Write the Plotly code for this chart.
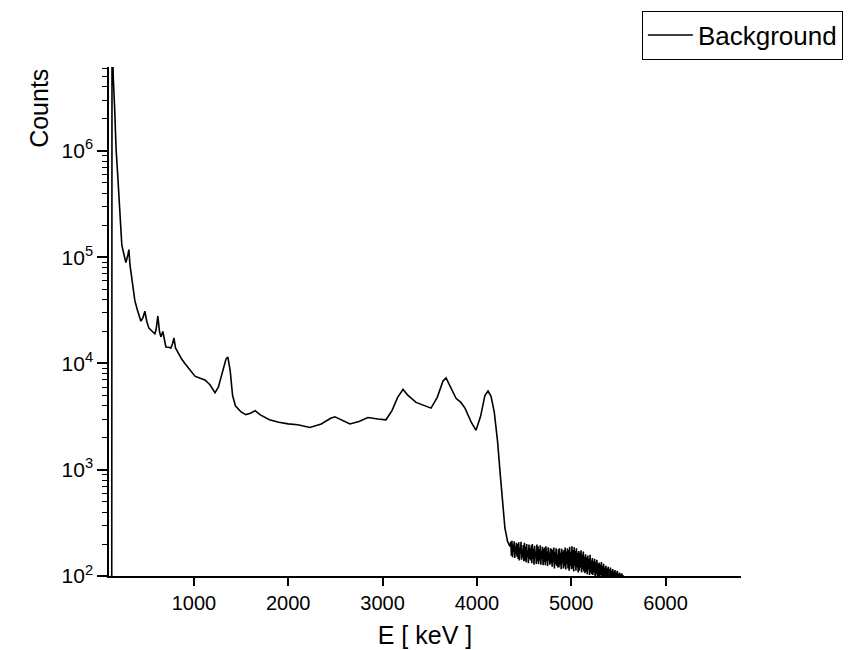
import plotly.graph_objects as go

# Main spectrum (energy in keV, counts)
main_energy = [100, 128, 132, 145, 160, 175, 194, 215, 236, 260, 279, 300, 311, 322, 332, 350, 374, 400,
               438, 460, 480, 500, 523, 560, 586, 600, 618, 635, 650, 671, 690, 703, 730, 756, 775, 788,
               805, 830, 870, 905, 950, 1011, 1060, 1117, 1170, 1224, 1260, 1300, 1340, 1360, 1385, 1410,
               1440, 1500, 1550, 1600, 1650, 1700, 1800, 1900, 2000, 2100, 2230, 2350, 2450, 2495, 2550,
               2654, 2750, 2845, 2950, 3036, 3100, 3160, 3217, 3270, 3355, 3440, 3514, 3580, 3640, 3673,
               3710, 3779, 3830, 3874, 3940, 3991, 4040, 4085, 4118, 4150, 4184, 4219, 4248, 4272, 4297,
               4325, 4350]
main_counts = [1, 1, 2.0e7, 5.0e6, 2.5e6, 1.05e6, 5.6e5, 2.7e5, 1.3e5, 1.05e5, 8.9e4, 1.05e5, 1.18e5,
               8.5e4, 7.4e4, 5.5e4, 3.9e4, 3.2e4, 2.5e4, 2.7e4, 3.1e4, 2.5e4, 2.15e4, 2.0e4, 1.9e4, 2.1e4,
               2.8e4, 2.0e4, 1.78e4, 2.0e4, 1.6e4, 1.43e4, 1.42e4, 1.4e4, 1.55e4, 1.74e4, 1.4e4, 1.26e4,
               1.1e4, 1.0e4, 8.8e3, 7.6e3, 7.3e3, 7.0e3, 6.3e3, 5.3e3, 6.0e3, 8.0e3, 1.1e4, 1.15e4, 8.5e3,
               5.0e3, 4.0e3, 3.5e3, 3.3e3, 3.4e3, 3.6e3, 3.3e3, 2.95e3, 2.8e3, 2.7e3, 2.65e3, 2.5e3,
               2.7e3, 3.05e3, 3.15e3, 3.0e3, 2.7e3, 2.85e3, 3.1e3, 3.0e3, 2.95e3, 3.6e3, 4.8e3, 5.7e3,
               5.0e3, 4.3e3, 4.0e3, 3.8e3, 4.8e3, 6.8e3, 7.3e3, 6.3e3, 4.7e3, 4.3e3, 3.8e3, 2.8e3, 2.35e3,
               3.2e3, 5.0e3, 5.5e3, 4.9e3, 3.5e3, 1.86e3, 9.0e2, 5.05e2, 2.83e2, 2.12e2, 1.9e2]

# Noisy high-energy tail: bins of 6 keV starting at 4360 keV (counts read as a band)
tail_start_kev = 4360
tail_bin_kev = 6
tail_counts = [210, 155, 215, 150, 198, 168, 212, 148, 190, 160, 205, 152,
               200, 145, 208, 140, 185, 162, 210, 142, 178, 150, 196, 138,
               205, 140, 188, 135, 200, 150, 175, 132, 198, 145, 182, 140,
               195, 132, 200, 145, 180, 128, 192, 150, 170, 130, 198, 138,
               190, 130, 178, 140, 195, 128, 172, 145, 188, 126, 180, 135,
               185, 126, 190, 138, 170, 124, 186, 140, 165, 128, 182, 132,
               180, 122, 176, 135, 185, 118, 168, 130, 182, 125, 160, 120,
               178, 120, 182, 128, 165, 116, 180, 132, 170, 118, 176, 124,
               185, 115, 170, 130, 182, 118, 176, 112, 188, 125, 168, 116,
               190, 118, 176, 110, 186, 125, 172, 112, 182, 120, 165, 108,
               172, 112, 165, 120, 175, 108, 158, 116, 170, 110, 152, 106,
               160, 110, 150, 104, 156, 115, 145, 102, 158, 108, 140, 104,
               148, 102, 138, 108, 145, 98, 135, 104, 142, 100, 130, 97,
               134, 98, 128, 102, 135, 95, 124, 100, 130, 96, 120, 94,
               125, 96, 118, 100, 122, 93, 115, 97, 120, 94, 112, 92,
               116, 94, 110, 97, 114, 92, 108, 95, 112, 91, 105, 93,
               108, 92, 104, 95, 106, 90, 102, 93, 100, 91, 98, 90,
               100, 92, 96]

x_tick_vals = [1000, 2000, 3000, 4000, 5000, 6000]
y_tick_vals = [1e2, 1e3, 1e4, 1e5, 1e6]
y_tick_text = ["10<sup>2</sup>", "10<sup>3</sup>", "10<sup>4</sup>", "10<sup>5</sup>", "10<sup>6</sup>"]

tail_energy = [tail_start_kev + tail_bin_kev * i for i in range(len(tail_counts))]
energy = main_energy + tail_energy
counts = main_counts + tail_counts

FONT = "Liberation Sans, Arial, sans-serif"

fig = go.Figure()
fig.add_trace(go.Scatter(x=energy, y=counts, mode="lines", name="Background",
                         line=dict(color="black", width=1.6)))

fig.update_layout(
    width=852, height=650,
    margin=dict(l=101, r=119, t=59, b=82, autoexpand=False),
    plot_bgcolor="white", paper_bgcolor="white",
    font=dict(family=FONT, size=20, color="black"),
    showlegend=True,
    legend=dict(xref="container", yref="container", x=0.744, y=0.996,
                xanchor="left", yanchor="top",
                bordercolor="black", borderwidth=1, bgcolor="white",
                font=dict(family=FONT, size=26, color="black"),
                itemwidth=45, tracegroupgap=0),
)

fig.update_xaxes(
    range=[100, 6800], showgrid=False, zeroline=False, automargin=False,
    showline=True, linecolor="black", linewidth=1.5, mirror=False,
    ticks="outside", ticklen=8, tickwidth=1.5, tickcolor="black",
    tickvals=x_tick_vals, tickfont=dict(size=20),
    title=dict(text="E [ keV ]", font=dict(size=25), standoff=14),
)
fig.update_yaxes(
    type="log", range=[2, 6.79], showgrid=False, zeroline=False, automargin=False,
    showline=True, linecolor="black", linewidth=1.5, mirror=False,
    ticks="outside", ticklen=10, tickwidth=1.5, tickcolor="black",
    tickvals=y_tick_vals, ticktext=y_tick_text, tickfont=dict(size=21),
    minor=dict(ticks="outside", ticklen=5, tickwidth=1.2, tickcolor="black", dtick="D1", showgrid=False),
)

fig.add_annotation(text="Counts", xref="paper", yref="paper",
                   x=-0.111, y=(568 - 100) / 509, xanchor="center", yanchor="middle",
                   textangle=-90, showarrow=False, font=dict(family=FONT, size=25, color="black"))

fig.write_html("out.html")
